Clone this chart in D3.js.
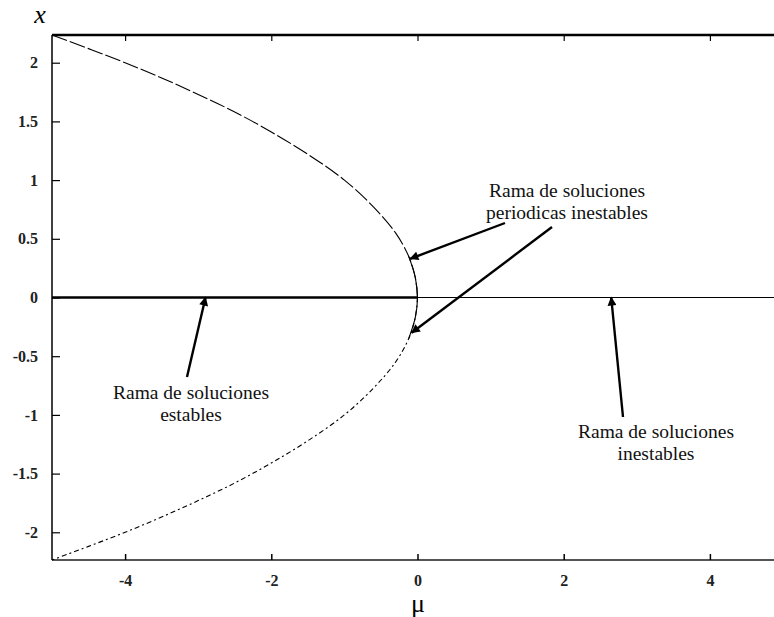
<!DOCTYPE html>
<html>
<head>
<meta charset="utf-8">
<script src="https://cdn.jsdelivr.net/npm/d3@7"></script>
<style>
  body { margin: 0; background: #fff; }
  svg text { font-family: "Liberation Serif", "Times New Roman", "DejaVu Serif", serif !important; }
</style>
</head>
<body>
<script>
// Variables
const width = 774;
const height = 617;

// Data
const xTicks = [-4, -2, 0, 2, 4];
const xTickLabels = ["-4", "-2", "0", "2", "4"];
const yTicks = [-2, -1.5, -1, -0.5, 0, 0.5, 1, 1.5, 2];
const yTickLabels = ["-2", "-1.5", "-1", "-0.5", "0", "0.5", "1", "1.5", "2"];

// upper periodic branch (mu, x)
const upperMu = [-5, -4.5, -4, -3.5, -3, -2.5, -2, -1.5, -1, -0.6, -0.3, -0.12, -0.03, 0];
const upperX  = [2.236, 2.12, 2.0, 1.87, 1.73, 1.58, 1.41, 1.22, 1.0, 0.77, 0.55, 0.35, 0.17, 0];
// lower periodic branch (mu, x)
const lowerMu = [0, -0.03, -0.12, -0.3, -0.6, -1, -1.5, -2, -2.5, -3, -3.5, -4, -4.5, -5];
const lowerX  = [0, -0.17, -0.35, -0.55, -0.77, -1.0, -1.22, -1.41, -1.58, -1.73, -1.87, -2.0, -2.12, -2.236];

// equilibrium branches
const stableMu = [-5, 0];
const unstableMu = [0, 5];

// annotations
const notes = [
  { lines: ["Rama de soluciones", "periodicas inestables"], tx: 567, ty: 190 },
  { lines: ["Rama de soluciones", "estables"], tx: 191, ty: 392 },
  { lines: ["Rama de soluciones", "inestables"], tx: 656, ty: 431 }
];
const arrows = [
  { from: [505, 223], to: [-0.1, 0.33] },
  { from: [552, 227], to: [-0.08, -0.3] },
  { from: [187, 377], to: [-2.9, 0] },
  { from: [623, 417], to: [2.65, 0] }
];

// Svg creation
const svg = d3.select("body").append("svg")
  .attr("width", width)
  .attr("height", height)
  .style("display", "block");

const x = d3.scaleLinear().domain([-5, 5]).range([52, 783]);
const y = d3.scaleLinear().domain([-2.236, 2.236]).range([560, 35]);

svg.append("defs").append("marker")
  .attr("id", "head")
  .attr("viewBox", "0 0 10 10")
  .attr("refX", 9).attr("refY", 5)
  .attr("markerWidth", 11).attr("markerHeight", 9)
  .attr("markerUnits", "userSpaceOnUse")
  .attr("orient", "auto")
  .append("path")
  .attr("d", "M0,0 L10,5 L0,10 z")
  .attr("fill", "#000");

// Frame
svg.append("line").attr("x1", x(-5)).attr("x2", width).attr("y1", y(2.236)).attr("y2", y(2.236))
  .attr("stroke", "#000").attr("stroke-width", 2.5);
svg.append("line").attr("x1", x(-5)).attr("x2", width).attr("y1", y(-2.236)).attr("y2", y(-2.236))
  .attr("stroke", "#555").attr("stroke-width", 2);
svg.append("line").attr("x1", x(-5)).attr("x2", x(-5)).attr("y1", y(2.236)).attr("y2", y(-2.236))
  .attr("stroke", "#000").attr("stroke-width", 1.5);

// Ticks
const bottomAxis = d3.axisBottom(x).tickValues(xTicks).tickSize(-6).tickPadding(15)
  .tickFormat((d, i) => xTickLabels[i]);
const gx = svg.append("g").attr("transform", `translate(0,${y(-2.236)})`).call(bottomAxis);
gx.select(".domain").remove();
gx.selectAll("line").attr("stroke", "#000").attr("stroke-width", 1.5);
gx.selectAll("text").attr("font-size", 16).attr("font-weight", "bold").attr("fill", "#222");

const topAxis = d3.axisTop(x).tickValues(xTicks).tickSize(-6).tickFormat("");
const gt = svg.append("g").attr("transform", `translate(0,${y(2.236)})`).call(topAxis);
gt.select(".domain").remove();
gt.selectAll("line").attr("stroke", "#000").attr("stroke-width", 1.2);

const leftAxis = d3.axisLeft(y).tickValues(yTicks).tickSize(-8).tickPadding(14)
  .tickFormat((d, i) => yTickLabels[i]);
const gy = svg.append("g").attr("transform", `translate(${x(-5)},0)`).call(leftAxis);
gy.select(".domain").remove();
gy.selectAll("line").attr("stroke", "#000").attr("stroke-width", 1.2);
gy.selectAll("text").attr("font-size", 16).attr("font-weight", "bold").attr("fill", "#222");

// Equilibrium branches
svg.append("line").attr("x1", x(stableMu[0])).attr("x2", x(stableMu[1]))
  .attr("y1", y(0)).attr("y2", y(0)).attr("stroke", "#000").attr("stroke-width", 2.5);
svg.append("line").attr("x1", x(unstableMu[0])).attr("x2", width)
  .attr("y1", y(0)).attr("y2", y(0)).attr("stroke", "#000").attr("stroke-width", 1.2);

// Periodic branches
const line = d3.line().x(d => x(d[0])).y(d => y(d[1])).curve(d3.curveCatmullRom);
svg.append("path").datum(d3.zip(upperMu, upperX)).attr("d", line)
  .attr("fill", "none").attr("stroke", "#000").attr("stroke-width", 1.1)
  .attr("stroke-dasharray", "16,3");
svg.append("path").datum(d3.zip(lowerMu, lowerX)).attr("d", line)
  .attr("fill", "none").attr("stroke", "#000").attr("stroke-width", 1.1)
  .attr("stroke-dasharray", "5,3,2,3");
svg.append("path").datum(d3.zip(upperMu.slice(11), upperX.slice(11)).concat(d3.zip(lowerMu.slice(1, 3), lowerX.slice(1, 3))))
  .attr("d", line).attr("fill", "none").attr("stroke", "#000").attr("stroke-width", 1.1);

// Arrows
svg.selectAll("line.arrow").data(arrows).join("line")
  .attr("class", "arrow")
  .attr("x1", d => d.from[0]).attr("y1", d => d.from[1])
  .attr("x2", d => x(d.to[0])).attr("y2", d => y(d.to[1]))
  .attr("stroke", "#000").attr("stroke-width", 2.4)
  .attr("marker-end", "url(#head)");

// Notes
notes.forEach(n => {
  svg.append("text")
    .attr("x", n.tx).attr("y", n.ty)
    .attr("text-anchor", "middle")
    .attr("font-size", 19.5)
    .attr("fill", "#111")
    .selectAll("tspan").data(n.lines).join("tspan")
    .attr("x", n.tx)
    .attr("dy", (d, i) => i === 0 ? "0.35em" : "1.13em")
    .text(d => d);
});

// Axis titles
svg.append("text").attr("x", 418).attr("y", 612).attr("text-anchor", "middle")
  .attr("font-size", 26).attr("fill", "#000").text("μ");
svg.append("text").attr("x", 40).attr("y", 23).attr("text-anchor", "middle")
  .attr("font-size", 26).attr("font-style", "italic").attr("fill", "#000").text("x");
</script>
</body>
</html>
